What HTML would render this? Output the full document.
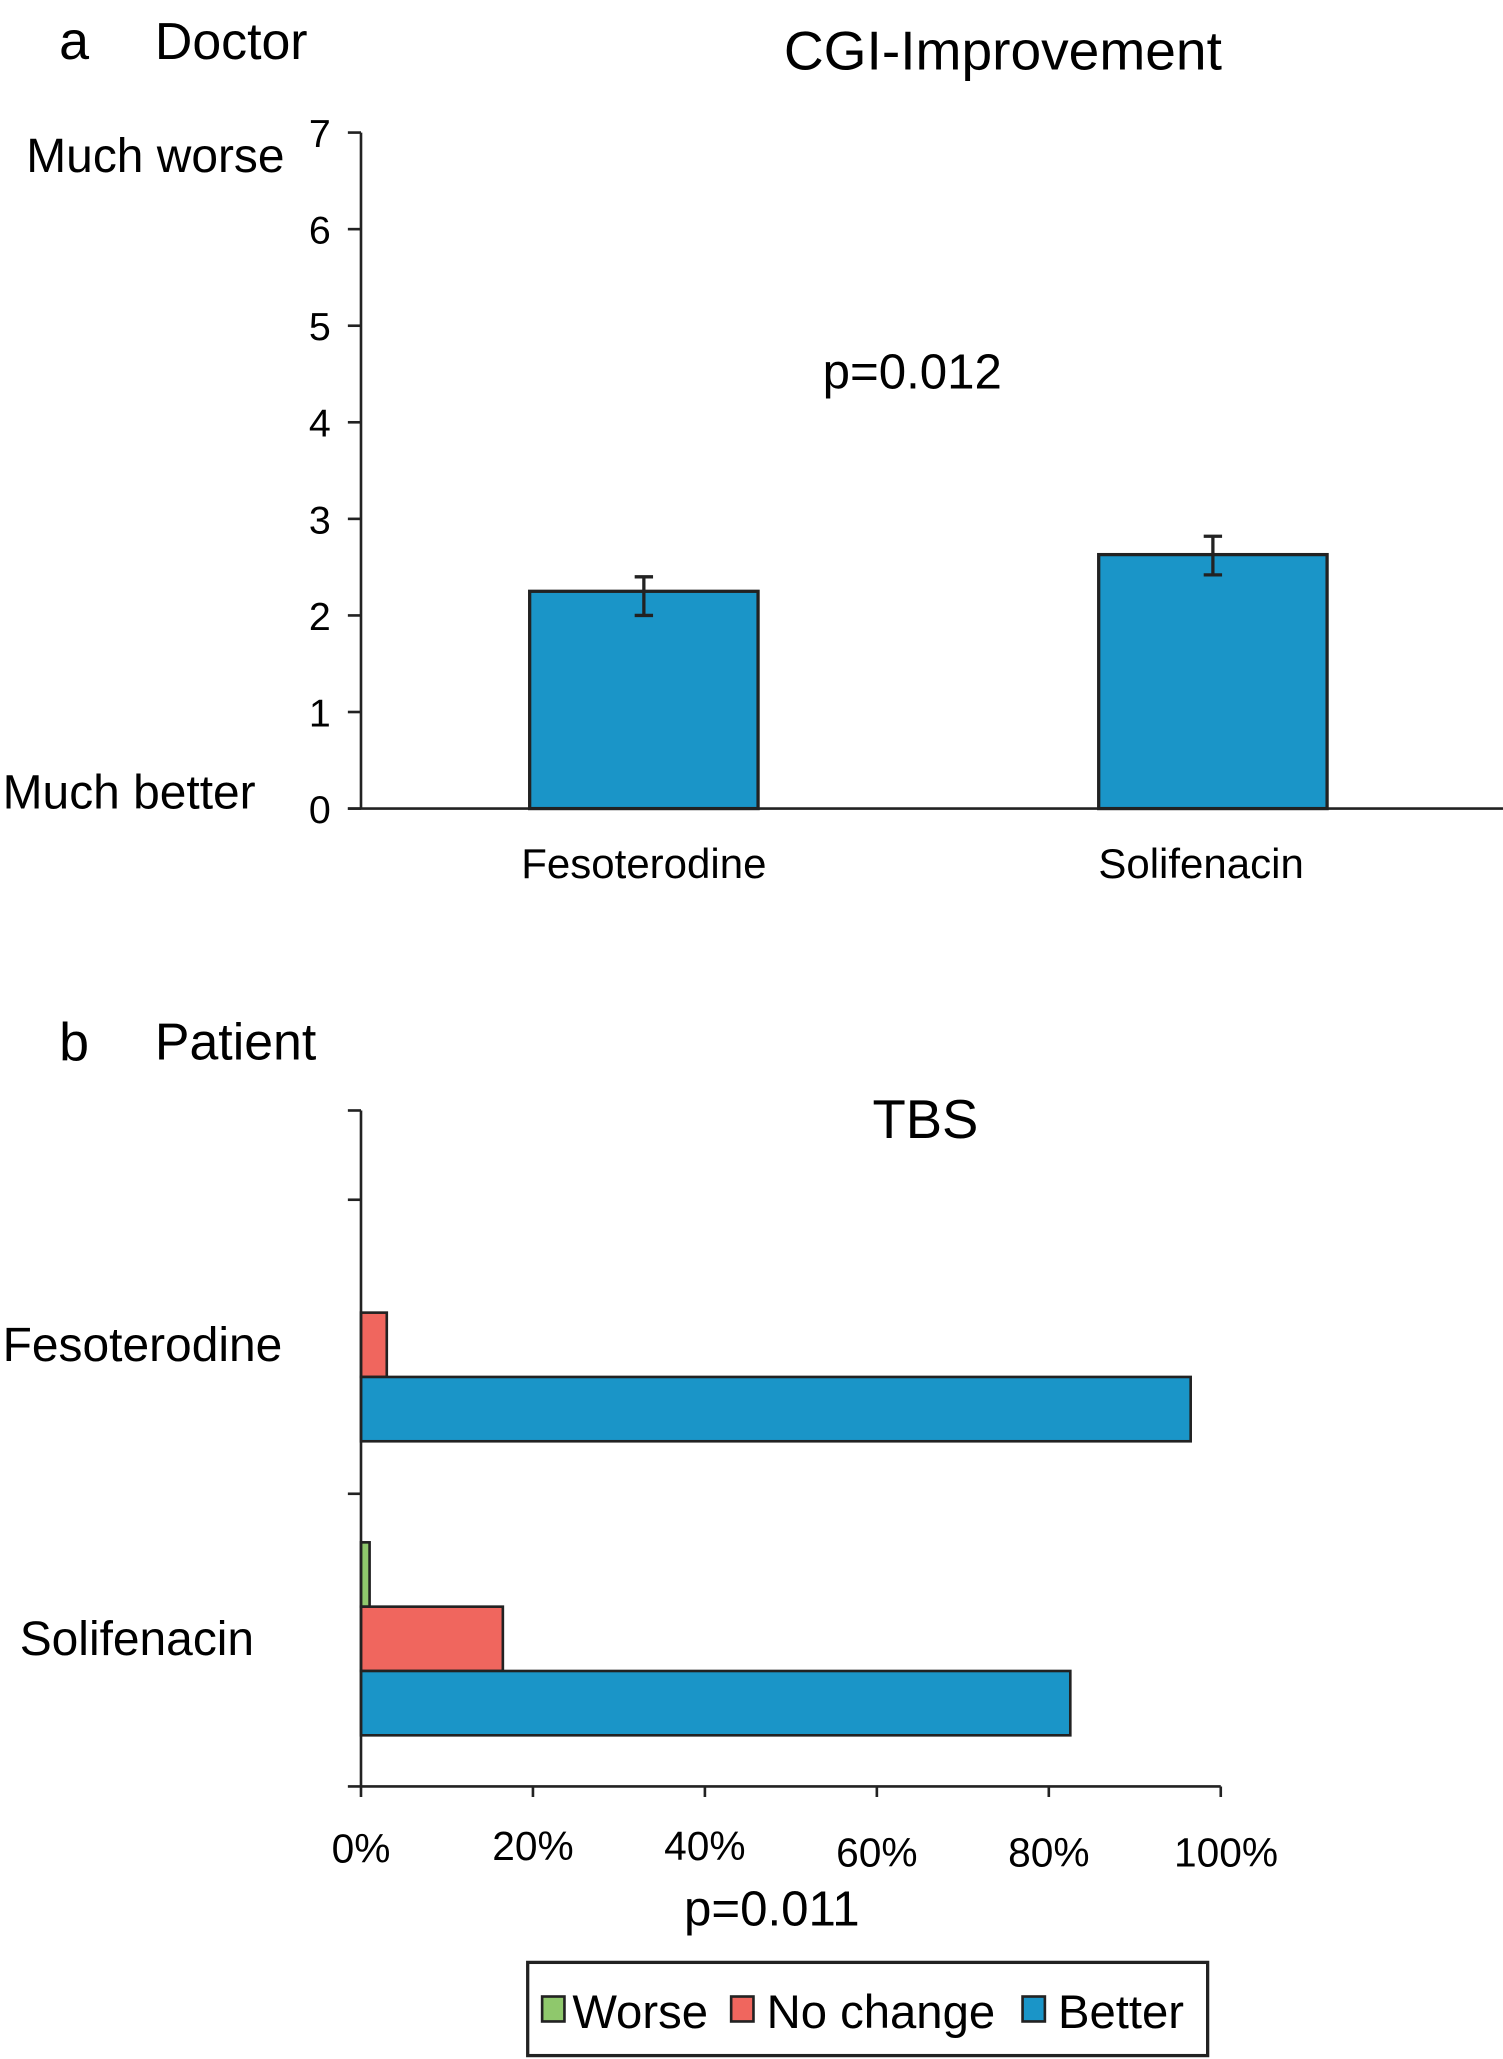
<!DOCTYPE html>
<html><head><meta charset="utf-8"><style>
html,body{margin:0;padding:0;background:#fff}
svg{display:block;font-family:"Liberation Sans",Arial,sans-serif}
</style></head><body>
<svg id="chart" width="1503" height="2059" viewBox="0 0 1145 1568.6" xmlns="http://www.w3.org/2000/svg">
<g id="pa"></g>
<g id="pb"></g>
</svg>
<script>
// Panel a data
const aCategories = ["Fesoterodine", "Solifenacin"];
const aMeans = [2.25, 2.63];
const aErrLow = [2.0, 2.42];
const aErrHigh = [2.4, 2.82];
const aTicks = [0, 1, 2, 3, 4, 5, 6, 7];
// Panel b data
const bCategories = ["Fesoterodine", "Solifenacin"];
const bWorse = [0, 1];
const bNoChange = [3, 16.5];
const bBetter = [96.5, 82.5];
const bTicks = ["0%", "20%", "40%", "60%", "80%", "100%"];
const bTickVals = [0, 20, 40, 60, 80, 100];

const NS = "http://www.w3.org/2000/svg";
function mk(parent, tag, attrs, text) {
  const e = document.createElementNS(NS, tag);
  for (const k in attrs) e.setAttribute(k, attrs[k]);
  if (text !== undefined) e.textContent = text;
  parent.appendChild(e);
  return e;
}
const BLUE = "#1a95c8", RED = "#f0665e", GREEN = "#8fc86c";

// ---------- Panel a ----------
const pa = document.getElementById("pa");
const ay = v => 616 - v * (515 / 7);
const aCenters = [490.5, 924];
let t;
t = mk(pa, "text", {x: 45, y: 45, "font-size": 41}, "a");


t = mk(pa, "text", {x: 118, y: 45, "font-size": 39.5}, "Doctor");


t = mk(pa, "text", {x: 764, y: 53, "font-size": 42, "text-anchor": "middle"}, "CGI-Improvement");


t = mk(pa, "text", {x: 20, y: 131, "font-size": 36.5}, "Much worse");


t = mk(pa, "text", {x: 2, y: 616, "font-size": 36.5}, "Much better");


t = mk(pa, "text", {x: 695, y: 296, "font-size": 37.5, "text-anchor": "middle"}, "p=0.012");


aTicks.forEach(v => {
  const l = mk(pa, "line", {x1: 265, x2: 275, y1: ay(v), y2: ay(v), stroke: "#222", "stroke-width": 2});
  
  
  const tx = mk(pa, "text", {x: 252, y: ay(v) + 11, "font-size": 30, "text-anchor": "end"}, String(v));
  
  
});
aCategories.forEach((c, i) => {
  const cx = aCenters[i];
  const r = mk(pa, "rect", {x: cx - 87, y: ay(aMeans[i]), width: 174, height: ay(0) - ay(aMeans[i]), fill: BLUE, stroke: "#222", "stroke-width": 2.5});
  
  
  const e = mk(pa, "path", {d: `M${cx} ${ay(aErrLow[i])}V${ay(aErrHigh[i])}M${cx-7} ${ay(aErrLow[i])}H${cx+7}M${cx-7} ${ay(aErrHigh[i])}H${cx+7}`, stroke: "#222", "stroke-width": 2.5, fill: "none"});
  
  
  const tx = mk(pa, "text", {x: [490.5, 915][i], y: 669, "font-size": 32, "text-anchor": "middle"}, c);
  
  
});
let ax = mk(pa, "line", {x1: 275, x2: 275, y1: ay(7), y2: ay(0), stroke: "#222", "stroke-width": 2});


ax = mk(pa, "line", {x1: 265, x2: 1145, y1: ay(0), y2: ay(0), stroke: "#222", "stroke-width": 2});



// ---------- Panel b ----------
const pb = document.getElementById("pb");
const bx = v => 275 + v * 6.55;
t = mk(pb, "text", {x: 45, y: 808, "font-size": 41}, "b");


t = mk(pb, "text", {x: 118, y: 807, "font-size": 39.5}, "Patient");


t = mk(pb, "text", {x: 705, y: 867, "font-size": 41.5, "text-anchor": "middle"}, "TBS");


const catLabelX = [2, 15], catLabelY = [1037, 1261];
const bandTop = [914, 1138];
bCategories.forEach((c, i) => {
  const tx = mk(pb, "text", {x: catLabelX[i], y: catLabelY[i], "font-size": 36.5}, c);
  
  
  const h = 49, bottom = bandTop[i] + 184;
  const series = [[bWorse[i], GREEN, 'worse'], [bNoChange[i], RED, 'no-change'], [bBetter[i], BLUE, 'better']];
  series.forEach((s, j) => {
    if (s[0] <= 0) return;
    const y = bottom - (3 - j) * h;
    const r = mk(pb, "rect", {x: bx(0), y: y, width: bx(s[0]) - bx(0), height: h, fill: s[1], stroke: "#222", "stroke-width": 2});
    
    
  });
});
[846, 914, 1138].forEach(y => {
  const l = mk(pb, "line", {x1: 265, x2: 275, y1: y, y2: y, stroke: "#222", "stroke-width": 2});
  
  
});
const tickLabY = [1419, 1417, 1417, 1422, 1422, 1422];
bTickVals.forEach((v, i) => {
  const l = mk(pb, "line", {x1: bx(v), x2: bx(v), y1: 1361, y2: 1369, stroke: "#222", "stroke-width": 2});
  
  
  const tx = mk(pb, "text", {x: bx(v) + (i === 5 ? 4 : 0), y: tickLabY[i], "font-size": 31, "text-anchor": "middle"}, bTicks[i]);
  
  
});
ax = mk(pb, "line", {x1: 275, x2: 275, y1: 846, y2: 1361, stroke: "#222", "stroke-width": 2});


ax = mk(pb, "line", {x1: 265, x2: bx(100), y1: 1361, y2: 1361, stroke: "#222", "stroke-width": 2});


t = mk(pb, "text", {x: 588, y: 1467, "font-size": 37.5, "text-anchor": "middle"}, "p=0.011");


// legend
const lg = mk(pb, "g", {});


mk(lg, "rect", {x: 402, y: 1495, width: 518, height: 71, fill: "#fff", stroke: "#222", "stroke-width": 2.5});
const legNames = ["Worse", "No change", "Better"], legCols = [GREEN, RED, BLUE], legX = [413, 557, 779];
legNames.forEach((n, i) => {
  const g = mk(lg, "g", {});
  
  
  mk(g, "rect", {x: legX[i], y: 1521, width: 17, height: 19, fill: legCols[i], stroke: "#222", "stroke-width": 2});
  mk(g, "text", {x: legX[i] + (i === 0 ? 23 : 27), y: 1545, "font-size": 36}, n);
});
</script>
</body></html>
